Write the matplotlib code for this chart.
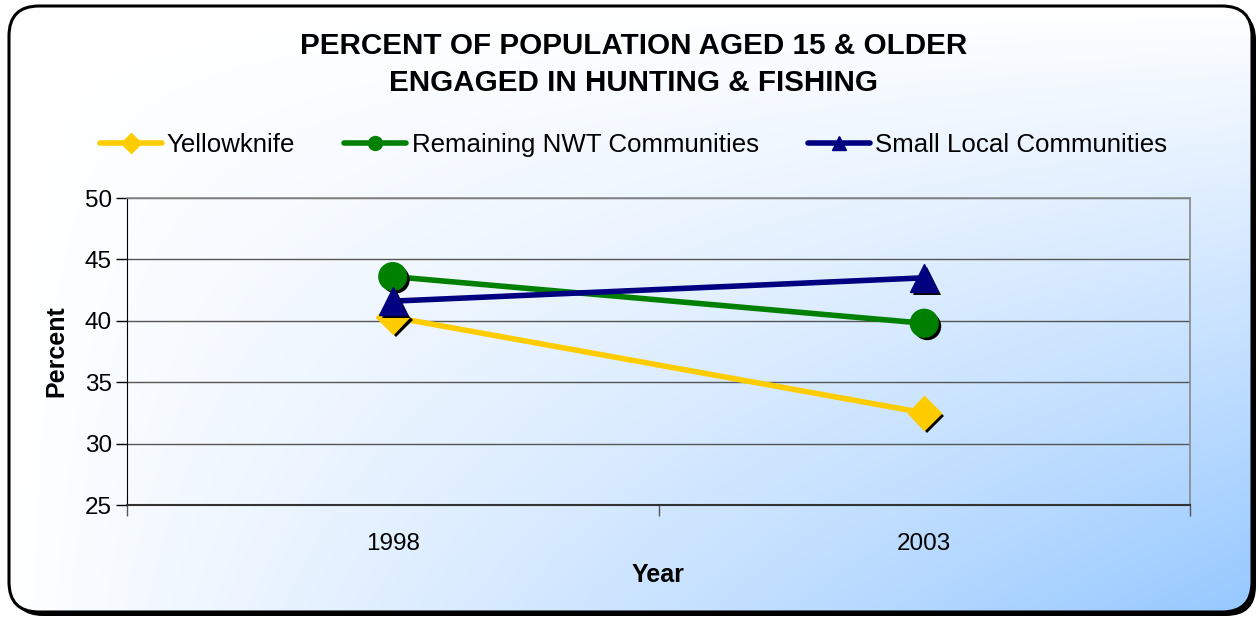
import numpy as np
import matplotlib
matplotlib.use("Agg")
import matplotlib.pyplot as plt
from matplotlib.patches import FancyBboxPatch
from matplotlib import patheffects as pe

plt.rcParams['font.family'] = ['Liberation Sans', 'DejaVu Sans']

years = ["1998", "2003"]
series_names = ["Yellowknife", "Remaining NWT Communities", "Small Local Communities"]
yellowknife = [40.3, 32.5]
remaining_nwt = [43.6, 39.8]
small_local = [41.6, 43.5]
y_ticks = [25, 30, 35, 40, 45, 50]

colors = ["#FFCC00", "#008000", "#000080"]
markers = ["D", "o", "^"]
marker_sizes = [17, 20, 20]

W, H = 1259, 618
fig = plt.figure(figsize=(W / 100, H / 100), dpi=100)
fig.patch.set_facecolor("white")

# Background: rounded chart frame with a corner gradient fill
bg = fig.add_axes([0, 0, 1, 1], zorder=-5)
bg.set_xlim(0, W)
bg.set_ylim(H, 0)
bg.axis("off")

x0, y0, x1, y1 = 9, 6, 1252, 612
rad = 30
shadow = FancyBboxPatch((x0 + 4, y0 + 4), x1 - x0, y1 - y0,
                        boxstyle=f"round,pad=0,rounding_size={rad}",
                        facecolor="black", edgecolor="black", lw=0)
bg.add_patch(shadow)
frame_fill = FancyBboxPatch((x0, y0), x1 - x0, y1 - y0,
                            boxstyle=f"round,pad=0,rounding_size={rad}",
                            facecolor="white", edgecolor="none")
bg.add_patch(frame_fill)

gx = np.linspace(0, 1, 400)
gy = np.linspace(0, 1, 200)
GX, GY = np.meshgrid(gx, gy)
t = GX * GY
c0 = np.array([1.0, 1.0, 1.0])
c1 = np.array([150, 200, 255]) / 255.0
img = c0[None, None, :] * (1 - t[..., None]) + c1[None, None, :] * t[..., None]
im = bg.imshow(img, extent=(x0, x1, y1, y0), aspect="auto", interpolation="bilinear", zorder=1)
im.set_clip_path(frame_fill)

border = FancyBboxPatch((x0, y0), x1 - x0, y1 - y0,
                        boxstyle=f"round,pad=0,rounding_size={rad}",
                        facecolor="none", edgecolor="black", lw=2.2, zorder=3)
bg.add_patch(border)

# Plot area
ax = fig.add_axes([127 / W, 1 - 505 / H, (1190 - 127) / W, (505 - 198) / H])
ax.patch.set_alpha(0)
xpos = np.arange(len(years))
data = [yellowknife, remaining_nwt, small_local]

for vals, col in zip(data, colors):
    ax.plot(xpos, vals, color=col, lw=4, solid_capstyle="round", zorder=3)
for vals, col, mk, ms in zip(data, colors, markers, marker_sizes):
    ax.plot(xpos, vals, linestyle="none", marker=mk, markersize=ms, color=col,
            markeredgecolor=col, zorder=4,
            path_effects=[pe.SimplePatchShadow(offset=(2.2, -2.2), shadow_rgbFace="black", alpha=1.0),
                          pe.Normal()])

ax.set_xlim(-0.5, 1.5)
ax.set_ylim(25, 50)
ax.set_yticks(y_ticks)
ax.set_xticks(xpos)
ax.set_xticklabels(years)
ax.set_xticks([-0.5, 0.5, 1.5], minor=True)
ax.tick_params(axis="x", which="major", length=0, pad=20, labelsize=17.5)
ax.tick_params(axis="x", which="minor", length=8, width=1, color="#555555", direction="out")
ax.tick_params(axis="y", length=8, width=1, direction="out", labelsize=17.5, pad=3)
ax.yaxis.grid(True, color="#555555", lw=1)
ax.set_axisbelow(True)
for side in ["top", "right"]:
    ax.spines[side].set_color("#888888")
    ax.spines[side].set_linewidth(1.2)
ax.spines["left"].set_color("black")
ax.spines["bottom"].set_color("#333333")
ax.spines["bottom"].set_linewidth(1.5)

ax.set_ylabel("Percent", fontsize=18, fontweight="bold", labelpad=12)
ax.set_xlabel("Year", fontsize=18, fontweight="bold", labelpad=6)

fig.text(0.503, 1 - 46 / H, "PERCENT OF POPULATION AGED 15 & OLDER",
         ha="center", va="center", fontsize=21.3, fontweight="bold")
fig.text(0.503, 1 - 83 / H, "ENGAGED IN HUNTING & FISHING",
         ha="center", va="center", fontsize=21.3, fontweight="bold")

handles = [plt.Line2D([], [], color=c, lw=4, marker=m, markersize=10, solid_capstyle="round")
           for c, m in zip(colors, markers)]
fig.legend(handles, series_names, loc="center", bbox_to_anchor=(0.503, 1 - 145 / H),
           ncol=3, frameon=False, fontsize=18.6, handlelength=2.4, handletextpad=0.2,
           columnspacing=1.9)

fig.savefig("out.png", dpi=100)
